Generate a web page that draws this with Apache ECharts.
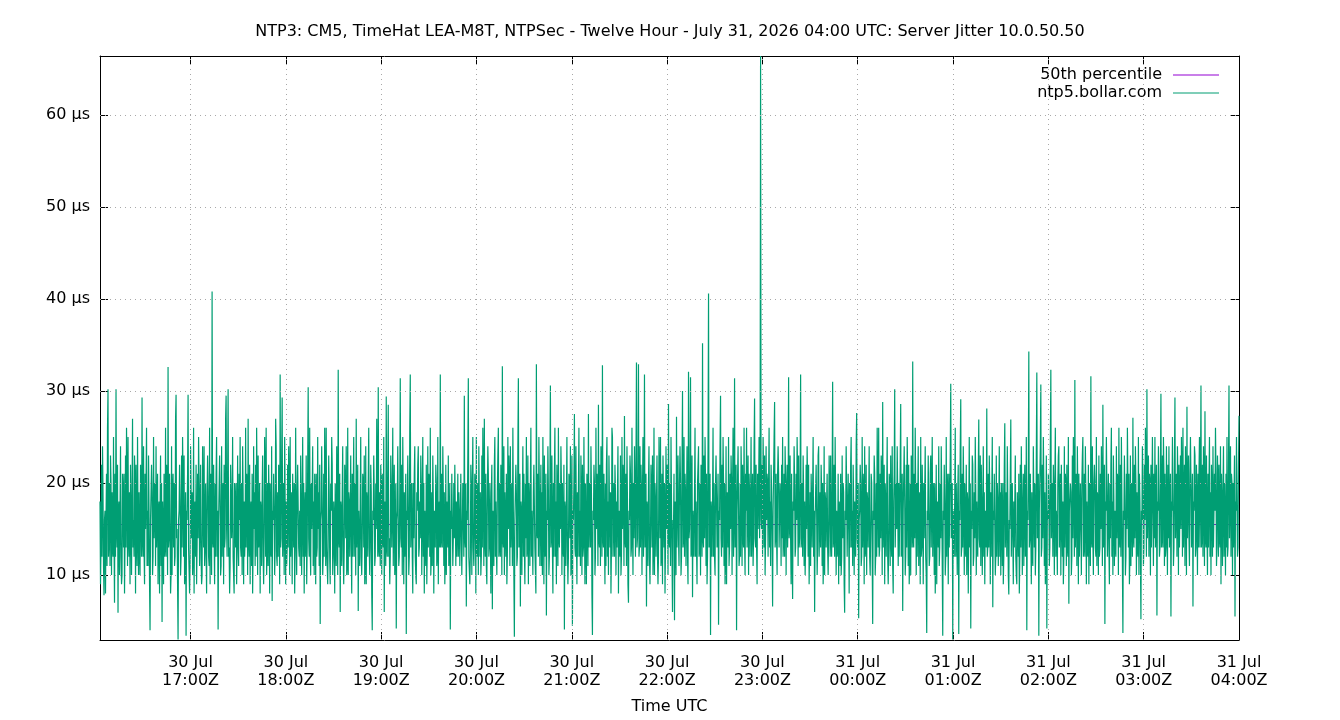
<!DOCTYPE html>
<html lang="en">
<head>
	<meta charset="UTF-8" />
	<title>NTP3 Server Jitter 10.0.50.50</title>
	<script src="https://cdn.jsdelivr.net/npm/echarts@6/dist/echarts.min.js"></script>
	<style>
		html, body { margin: 0; padding: 0; background: #fff; }
		#main { width: 1340px; height: 720px; }
	</style>
</head>
<body>
<div id="main"></div>
<script>
	// server jitter samples in µs from left to right (about two per pixel)
	var jitter = [
		18,9,13,22, 12,24,19,11, 7.8,16,17,8, 16,21,11,26, 30.2,12,14,20, 11,23,20,10, 19,13,12,25, 14,7,21,12, 30.2,15,13,22, 5.9,17,18,10,
		17,24,12,9, 10,21,19,13, 21,8,14,23, 13,26,20,11, 25,14,12,19, 9,22,17,10, 18,27,13,16, 12,23,20,8, 22,14,11,25, 15,10,19,13,
		10,22,18,12, 29.3,14,12,24, 13,9,21,15, 20,26,11,17, 11,23,17,9, 4.0,16,16,22, 19,10,12,25, 14,19,20,11, 24,13,13,21, 9,17,18,8,
		17,23,11,20, 4.9,18,15,9, 21,12,13,26, 12,22,19,10, 32.6,13,14,21, 15,8,10,24, 10,19,21,13, 20,11,12,27, 29.6,14,15,9, 3.0,16,17,22,
		18,10,12,23, 13,25,20,12, 23,9,11,19, 3.4,17,16,21, 29.6,13,13,8, 11,24,19,14, 19,10,12,26, 8,17,18,12, 22,9,13,21, 14,25,20,11,
		17,22,12,9, 10,24,18,13, 24,11,13,20, 13,8,19,23, 19,12,11,26, 9,21,17,10, 40.8,14,13,22, 14,9,20,12, 21,25,12,17, 4.1,16,16,23,
		18,10,11,24, 12,19,20,9, 22,13,14,27, 29.5,15,12,21, 30.2,12,13,8, 11,22,19,14, 16,25,12,10, 8,20,18,13, 20,9,13,23, 14,11,21,16,
		25,13,12,20, 10,24,19,9, 18,12,14,26, 13,21,20,10, 27,14,12,22, 9,17,18,11, 21,8,13,24, 15,19,11,22, 12,26,19,10, 23,13,14,20,
		8,18,17,11, 19,23,12,9, 14,25,21,12, 26,10,13,20, 11,22,18,8, 20,13,12,24, 7.2,17,16,21, 17,10,13,27, 24,12,11,19, 12,22,19,9,
		31.8,13,14,23, 29.3,12,12,20, 10,25,18,9, 18,11,13,22, 13,24,20,10, 25,12,12,19, 9,21,17,13, 20,8,13,26, 15,10,19,22, 22,13,12,17,
		11,23,18,10, 17,25,12,20, 8,17,19,12, 23,9,13,22, 30.4,14,12,26, 13,10,20,15, 19,24,11,18, 10,21,18,9, 21,12,13,25, 15,19,11,22,
		4.7,16,17,24, 18,10,12,21, 12,26,20,11, 26,13,13,9, 14,23,19,12, 9,20,17,25, 22,10,12,18, 16,8,20,13, 11,24,18,10, 32.3,14,13,21,
		6.0,18,17,11, 19,24,12,9, 13,22,20,14, 24,10,11,26, 10,19,18,12, 17,23,13,8, 21,12,12,25, 12,20,19,10, 27,13,13,22, 6.1,17,17,11,
		18,25,12,10, 14,21,20,13, 23,9,11,24, 9,19,18,12, 20,26,13,10, 13,22,19,8, 4.0,17,16,23, 19,11,12,20, 15,27,20,12, 30.4,13,12,19,
		11,22,19,10, 21,14,13,25, 6.0,18,17,11, 29.4,13,12,21, 28.5,12,14,9, 12,23,19,13, 18,26,11,17, 22,10,13,20, 4.2,16,17,24, 16,11,12,19,
		31.4,14,13,22, 10,25,18,9, 19,12,12,21, 3.6,17,16,23, 17,10,12,26, 31.8,13,13,20, 12,8,20,14, 21,24,12,10, 9,19,17,22, 24,12,13,18,
		14,23,19,10, 18,25,12,20, 8,17,17,11, 22,9,13,24, 13,21,20,12, 26,10,12,19, 11,23,18,8, 17,14,13,22, 20,11,12,25, 9,17,18,13,
		31.8,13,14,21, 13,24,19,11, 19,9,12,22, 10,18,18,13, 23,11,13,20, 4.1,17,15,21, 16,11,14,20, 14,22,17,11, 18,12,15,21, 12,19,16,11,
		17,21,14,10, 15,20,17,12, 29.5,14,13,20, 6.6,17,16,23, 31.4,12,12,9, 12,22,19,10, 20,25,13,11, 14,21,19,8, 25,13,12,20, 10,24,18,12,
		19,10,12,23, 13,26,20,11, 27,14,12,21, 11,9,18,24, 21,12,13,20, 15,8,19,22, 6.3,17,16,11, 22,25,12,18, 13,10,19,23, 26,12,13,20,
		12,22,18,10, 32.7,14,13,24, 10,19,19,12, 21,9,12,25, 15,23,20,11, 24,13,13,20, 11,26,17,10, 3.3,16,16,22, 19,11,12,24, 31.4,13,14,21,
		6.6,18,17,10, 18,24,12,21, 13,9,20,14, 25,12,13,23, 9,20,18,11, 20,26,12,17, 14,10,19,22, 22,13,13,8, 32.9,15,14,21, 12,25,19,11,
		17,22,11,19, 10,25,18,9, 23,12,13,21, 5.6,17,16,24, 19,10,12,20, 30.6,13,14,23, 13,8,20,12, 21,26,12,18, 9,22,17,11, 26,14,13,20,
		15,24,20,10, 20,13,12,22, 4.1,18,17,11, 18,25,13,9, 12,21,20,14, 24,10,13,23, 4.5,17,16,20, 27.5,13,12,24, 14,9,19,12, 19,26,12,17,
		11,23,18,10, 22,12,13,25, 16,9,20,14, 9,21,17,11, 27.5,13,13,20, 13,24,19,8, 3.5,17,16,22, 20,10,12,26, 15,21,19,11, 28.5,14,13,22,
		11,24,19,12, 32.8,14,13,21, 14,9,20,11, 22,25,12,18, 10,23,18,13, 19,8,13,26, 25,12,12,20, 12,22,19,10, 18,13,13,24, 8,17,17,12,
		23,10,12,25, 15,22,20,11, 27.3,14,13,21, 11,24,18,9, 7.0,17,16,23, 21,12,13,26, 16,10,20,14, 24,19,12,22, 33.1,13,14,20, 32.9,12,13,24,
		13,22,19,10, 19,25,12,17, 31.8,13,14,21, 6.6,18,17,11, 20,24,12,9, 14,22,19,13, 23,10,13,26, 10,20,18,12, 18,23,12,9, 12,25,20,14,
		25,11,12,21, 9,23,18,13, 20,8,13,24, 15,22,19,10, 28.6,14,13,20, 11,25,18,12, 6.0,16,15,21, 5.1,18,17,10, 27.2,13,13,23, 14,11,20,24,
		20,10,12,22, 30.0,13,14,25, 12,21,19,11, 18,24,12,9, 32.1,14,15,21, 31.5,12,13,23, 7.6,17,17,12, 19,26,12,18, 13,9,20,22, 24,12,13,20,
		10,22,18,12, 35.2,14,13,23, 14,25,20,11, 21,9,12,24, 40.6,13,14,21, 3.5,18,17,12, 18,26,12,20, 12,10,20,23, 23,13,13,21, 4.6,17,16,24,
		29.5,14,12,22, 13,25,20,11, 20,9,12,24, 9,19,18,13, 25,11,13,21, 15,23,20,10, 19,26,12,17, 31.4,13,14,22, 4.0,17,17,24, 17,11,12,20,
		12,24,20,11, 22,14,13,26, 14,10,21,17, 26,13,13,23, 10,21,19,12, 18,25,12,16, 21,11,14,24, 29.2,14,13,22, 13,9,21,15, 19,25,14,20,
		66.4,16,15,22, 12,25,21,13, 23,10,14,24, 16,21,20,12, 20,26,13,18, 11,22,19,14, 6.6,17,17,25, 28.8,13,14,21, 14,10,21,24, 21,13,13,20,
		17,11,22,14, 25,12,14,21, 12,24,20,10, 19,22,13,17, 31.5,14,15,23, 14,9,21,13, 7.4,18,17,24, 20,12,13,21, 16,25,21,11, 23,13,14,20,
		31.8,13,14,20, 12,23,19,11, 18,10,13,22, 15,24,20,12, 22,9,13,19, 11,21,18,13, 19,25,12,17, 6.0,16,16,22, 17,10,13,23, 24,12,12,19,
		13,22,19,11, 20,9,12,24, 10,19,18,13, 18,21,13,10, 15,23,19,12, 23,14,12,20, 31.0,13,14,22, 12,25,18,10, 17,12,13,21, 9,18,17,11,
		21,10,12,23, 14,20,19,9, 5.9,17,16,24, 19,12,12,21, 16,8,20,13, 22,25,13,17, 11,22,18,10, 18,13,12,24, 27.6,14,13,20, 5.3,16,17,22,
		20,11,12,25, 13,21,19,9, 24,12,13,22, 10,19,18,13, 18,24,12,10, 15,21,20,12, 4.7,17,16,23, 21,10,12,20, 12,26,19,13, 26,12,13,21,
		14,23,20,10, 28.8,13,13,22, 9,20,18,12, 19,25,12,9, 13,21,20,11, 23,14,12,24, 11,8,18,21, 30.2,13,13,20, 15,24,19,11, 20,12,12,22,
		28.6,12,13,21, 6.1,17,17,24, 18,10,12,22, 13,25,20,11, 22,9,12,20, 10,23,18,13, 33.2,14,13,21, 14,26,19,10, 20,12,12,24, 11,19,18,9,
		25,12,13,22, 16,9,20,14, 19,24,12,10, 3.7,17,16,23, 17,11,12,21, 23,13,13,25, 12,20,19,10, 20,8,12,22, 9,18,17,13, 24,11,13,20,
		14,24,19,11, 3.4,17,16,22, 18,10,12,25, 12,21,19,9, 21,13,13,23, 30.8,14,14,20, 3.0,17,17,12, 19,26,12,20, 15,10,19,22, 3.6,17,16,24,
		29.1,12,13,21, 13,24,19,10, 20,13,12,22, 10,19,18,8, 17,25,13,20, 4.2,17,15,23, 22,11,12,19, 14,25,19,10, 18,13,12,21, 26.9,14,13,23,
		11,22,18,10, 16,24,12,19, 9,17,17,13, 28.1,12,13,21, 13,23,19,9, 19,12,12,25, 6.5,17,16,21, 21,10,12,23, 12,20,18,11, 17,24,12,19,
		10,20,17,11, 20,9,12,22, 26.5,13,13,19, 12,24,18,10, 7.9,16,15,21, 26.9,12,12,20, 14,9,18,13, 18,23,12,10, 9,19,16,12, 21,8,12,22,
		13,24,18,10, 17,21,11,19, 22,12,13,25, 4.0,17,16,22, 34.3,13,14,21, 15,9,19,12, 11,24,18,13, 20,10,13,23, 32.0,14,15,21, 3.4,17,17,24,
		30.7,12,13,22, 14,25,20,11, 19,9,12,23, 4.2,17,16,21, 18,11,13,24, 32.3,14,14,20, 12,22,19,10, 20,26,12,17, 15,10,20,23, 24,13,13,21,
		10,22,18,12, 18,9,12,24, 13,21,20,11, 22,13,12,25, 6.9,17,17,20, 19,10,12,23, 14,25,20,12, 31.2,13,13,21, 11,24,18,9, 21,12,12,20,
		16,10,20,23, 25,12,13,21, 12,24,19,9, 18,13,12,22, 9,20,17,11, 31.6,14,13,24, 14,10,20,22, 20,13,12,25, 11,19,18,10, 23,12,13,21,
		15,24,19,11, 28.5,13,13,22, 4.7,18,17,25, 19,12,12,21, 13,9,20,14, 22,26,12,18, 10,23,18,11, 17,13,12,24, 14,21,20,10, 26.0,14,13,22,
		12,25,18,11, 3.7,17,16,23, 18,10,12,21, 15,26,20,13, 21,9,12,23, 11,20,18,12, 27.1,14,13,22, 14,24,20,10, 19,13,12,25, 10,21,18,12,
		5.2,17,16,24, 20,11,13,22, 16,26,21,12, 30.2,14,14,23, 12,21,20,10, 22,13,13,25, 17,11,21,14, 25,13,13,22, 5.6,18,17,24, 19,12,13,21,
		29.7,13,14,23, 13,25,21,11, 21,12,13,24, 16,10,22,14, 24,13,13,21, 5.5,18,17,25, 18,11,13,22, 29.3,14,14,21, 12,24,20,10, 22,13,13,23,
		15,25,21,12, 26,13,13,22, 11,24,19,10, 28.3,14,14,23, 14,11,21,25, 20,13,13,21, 6.6,18,17,24, 23,12,13,22, 17,10,21,13, 21,25,13,20,
		30.6,13,14,22, 12,24,20,11, 27.8,14,13,23, 15,10,21,13, 20,25,12,19, 10,22,19,12, 24,13,13,21, 17,26,21,11, 13,23,20,12, 22,14,13,24,
		9,21,18,11, 19,24,12,20, 16,10,21,13, 25,12,13,22, 30.6,14,14,24, 12,21,20,10, 20,13,13,23, 5.5,18,17,25, 18,12,13,22, 27.3
	];
	var median = 15.5;              // 50th percentile line
	var tStart = '2026-07-30T16:03:00Z';
	var tEnd = '2026-07-31T04:00:00Z';
	var xTicks = [
		'2026-07-30T17:00:00Z', '2026-07-30T18:00:00Z', '2026-07-30T19:00:00Z', '2026-07-30T20:00:00Z',
		'2026-07-30T21:00:00Z', '2026-07-30T22:00:00Z', '2026-07-30T23:00:00Z', '2026-07-31T00:00:00Z',
		'2026-07-31T01:00:00Z', '2026-07-31T02:00:00Z', '2026-07-31T03:00:00Z', '2026-07-31T04:00:00Z'
	];
	var yTicks = [10, 20, 30, 40, 50, 60];
	var yMin = 2.95, yMax = 66.4;

	var months = ['Jan', 'Feb', 'Mar', 'Apr', 'May', 'Jun', 'Jul', 'Aug', 'Sep', 'Oct', 'Nov', 'Dec'];
	var t0 = Date.parse(tStart), t1 = Date.parse(tEnd);
	var xTickMs = xTicks.map(function (s) { return Date.parse(s); });
	var step = (t1 - t0) / (jitter.length - 1);
	var jitterData = jitter.map(function (v, i) { return [t0 + i * step, v]; });

	function pad(n) { return (n < 10 ? '0' : '') + n; }
	function timeLabel(v) {
		var d = new Date(v);
		return d.getUTCDate() + ' ' + months[d.getUTCMonth()] + '\n' + pad(d.getUTCHours()) + ':' + pad(d.getUTCMinutes()) + 'Z';
	}

	var font = 'DejaVu Sans';
	var fs = 16;
	var gridLine = { color: '#a8a8a8', width: 1, type: [1, 4] };
	var gridMarks = yTicks.map(function (v) { return { yAxis: v }; })
		.concat(xTickMs.slice(0, -1).map(function (t) { return { xAxis: t }; }));

	var mychart = echarts.init(document.getElementById('main'), null, { renderer: 'canvas' });
	mychart.setOption({
		animation: false,
		textStyle: { fontFamily: font, color: '#000' },
		title: {
			text: 'NTP3: CM5, TimeHat LEA-M8T, NTPSec - Twelve Hour - July 31, 2026 04:00 UTC: Server Jitter 10.0.50.50',
			left: 'center',
			top: 19,
			textStyle: { fontFamily: font, fontSize: fs, fontWeight: 'normal', color: '#000' }
		},
		legend: {
			orient: 'vertical',
			right: 121,
			top: 67,
			padding: 0,
			align: 'right',
			icon: 'rect',
			itemWidth: 46,
			itemHeight: 1,
			itemGap: 2,
			textStyle: { fontFamily: font, fontSize: fs, color: '#000', padding: [0, 6, 0, 0] },
			data: ['50th percentile', 'ntp5.bollar.com']
		},
		grid: { left: 100, right: 101, top: 56, bottom: 79 },
		xAxis: [{
			type: 'value',
			min: t0,
			max: t1,
			name: 'Time UTC',
			nameLocation: 'middle',
			nameGap: 59,
			nameTextStyle: { fontFamily: font, fontSize: fs, color: '#000' },
			axisLine: { lineStyle: { color: '#000', width: 1 } },
			axisTick: { inside: true, length: 8, customValues: xTickMs, lineStyle: { color: '#000' } },
			axisLabel: {
				customValues: xTickMs, formatter: timeLabel, margin: 14, lineHeight: 18,
				fontFamily: font, fontSize: fs, color: '#000'
			},
			splitLine: { show: false }
		}, {
			type: 'value',
			position: 'top',
			min: t0,
			max: t1,
			axisLine: { lineStyle: { color: '#000', width: 1 } },
			axisTick: { inside: true, length: 8, customValues: xTickMs, lineStyle: { color: '#000' } },
			axisLabel: { show: false },
			splitLine: { show: false }
		}],
		yAxis: [{
			type: 'value',
			min: yMin,
			max: yMax,
			axisLine: { show: true, lineStyle: { color: '#000', width: 1 } },
			axisTick: { show: true, inside: true, length: 8, customValues: yTicks, lineStyle: { color: '#000' } },
			axisLabel: {
				customValues: yTicks, margin: 10, fontFamily: font, fontSize: fs, color: '#000',
				verticalAlign: 'middle', lineHeight: 20, padding: [4, 0, 0, 0],
				formatter: function (v) { return v + ' µs'; }
			},
			splitLine: { show: false }
		}, {
			type: 'value',
			position: 'right',
			min: yMin,
			max: yMax,
			axisLine: { show: true, lineStyle: { color: '#000', width: 1 } },
			axisTick: { show: true, inside: true, length: 8, customValues: yTicks, lineStyle: { color: '#000' } },
			axisLabel: { show: false },
			splitLine: { show: false }
		}],
		series: [
			{
				name: '50th percentile',
				type: 'line',
				z: 1,
				symbol: 'none',
				color: '#9400d3',
				lineStyle: { width: 1, color: '#9400d3' },
				data: [[t0, median], [t1, median]],
				markLine: {
					silent: true,
					symbol: ['none', 'none'],
					label: { show: false },
					lineStyle: gridLine,
					emphasis: { disabled: true },
					data: gridMarks
				}
			},
			{
				name: 'ntp5.bollar.com',
				type: 'line',
				z: 2,
				symbol: 'none',
				sampling: false,
				color: '#009e73',
				lineStyle: { width: 1.2, color: '#009e73' },
				emphasis: { disabled: true },
				data: jitterData
			}
		]
	});
</script>
</body>
</html>
